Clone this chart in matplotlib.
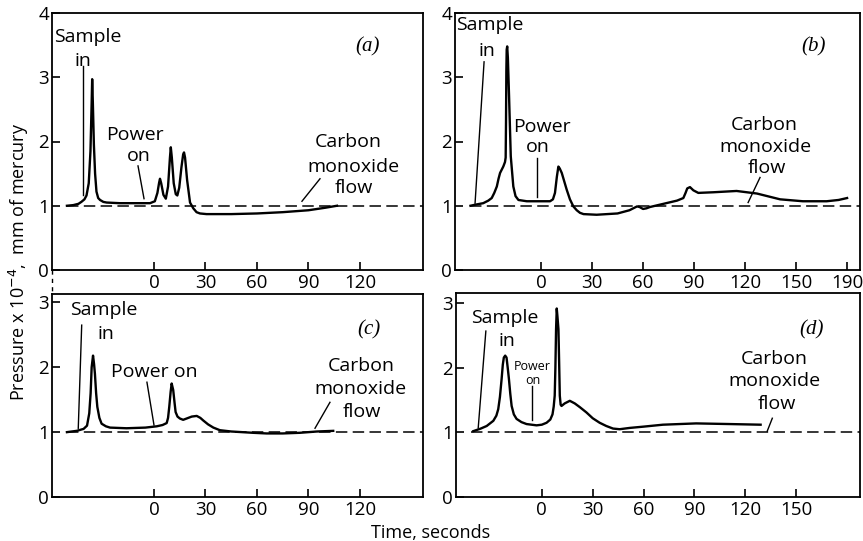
import matplotlib
matplotlib.use("Agg")
import matplotlib.pyplot as plt
from matplotlib.lines import Line2D

plt.rcParams['font.family'] = ['Open Sans', 'DejaVu Sans']

# panel (a)
a_time = [-50.7, -47, -44, -42.3, -40.5, -39.3, -38, -37, -36.3, -36, -35.6, -35, -34.3,
          -33.5, -32.5, -31.4, -29.5, -27.6, -20, -10, -2.3, 0.5, 2, 3, 3.5, 4.2, 5.5,
          6.9, 8.2, 9.3, 9.8, 10.4, 11.5, 12.7, 13.6, 14.7, 16, 17, 17.5, 18.1, 19.3,
          21, 22.9, 24.8, 26.8, 30.6, 45, 60, 75, 90, 100, 106.6]
a_pres = [1.00, 1.01, 1.03, 1.06, 1.10, 1.16, 1.35, 1.85, 2.6, 2.97, 2.6, 1.95, 1.5,
          1.22, 1.12, 1.09, 1.06, 1.05, 1.04, 1.04, 1.04, 1.07, 1.2, 1.36, 1.42, 1.35, 1.17,
          1.11, 1.3, 1.75, 1.91, 1.75, 1.35, 1.18, 1.16, 1.28, 1.6, 1.8, 1.83, 1.75, 1.4,
          1.05, 0.96, 0.9, 0.88, 0.87, 0.87, 0.88, 0.9, 0.93, 0.97, 1.0]

# panel (b)
b_time = [-41.5, -38, -34, -31, -29, -27.5, -26, -25, -24.1, -22.2, -21.2, -20.8, -20.6,
          -20.4, -20.2, -19.9, -19.5, -18.8, -17.8, -16.3, -15, -13.3, -8.4, 5.3, 7, 8.2,
          9.3, 10.2, 11, 12.2, 15.1, 17, 19, 21, 22.9, 25, 32.7, 45, 52, 55, 56.5, 58, 60,
          62, 64, 72, 80, 83.7, 85, 86, 87.6, 89.6, 92.5, 101.4, 115, 127, 140.6, 154,
          168, 175, 180]
b_pres = [1.00, 1.02, 1.04, 1.08, 1.12, 1.2, 1.30, 1.42, 1.51, 1.61, 1.68, 1.75, 2.3,
          3.1, 3.43, 3.48, 3.3, 2.70, 1.77, 1.30, 1.15, 1.09, 1.07, 1.07, 1.1, 1.20,
          1.45, 1.61, 1.58, 1.51, 1.25, 1.10, 0.99, 0.93, 0.89, 0.87, 0.86, 0.88, 0.93, 0.97,
          0.99, 0.98, 0.95, 0.96, 0.98, 1.03, 1.08, 1.12, 1.2, 1.27, 1.29, 1.24, 1.20, 1.21,
          1.23, 1.19, 1.10, 1.07, 1.07, 1.09, 1.12]

# panel (c)
c_time = [-50.7, -45, -41, -39, -37.7, -36.9, -36.3, -35.5, -34.9, -34.4, -33.7, -33,
          -31.8, -30.5, -28, -25.6, -16, -5, 1.6, 5, 7.4, 8.2, 8.9, 9.7, 10.3, 11.2, 12,
          12.6, 13.7, 15.1, 17, 19, 22, 24.9, 27, 28.7, 31.5, 34.6, 38.4, 45, 57.6, 65.6,
          75, 85, 95, 104.4]
c_pres = [1.00, 1.02, 1.05, 1.1, 1.29, 1.6, 2.0, 2.18, 2.05, 1.90, 1.6, 1.39,
          1.22, 1.13, 1.09, 1.07, 1.06, 1.07, 1.09, 1.11, 1.14, 1.22, 1.39, 1.62, 1.75, 1.65,
          1.45, 1.31, 1.24, 1.21, 1.19, 1.21, 1.24, 1.25, 1.22, 1.18, 1.12, 1.07, 1.03, 1.01,
          0.99, 0.98, 0.98, 0.99, 1.01, 1.02]

# panel (d)
d_time = [-40.4, -36, -32.5, -28.6, -26.8, -25.7, -24.7, -23.7, -23, -22.4, -21.6, -20.8,
          -20.1, -19.4, -18.6, -17.8, -16.5, -14.9, -12, -9, -3.1, 0, 2.8, 5, 6.3, 7, 7.6,
          8, 8.4, 8.8, 9.2, 9.8, 10.2, 10.6, 11.1, 11.6, 13.5, 16.5, 19.4, 22.5, 26.3, 30,
          34.1, 38, 42, 45.9, 51.8, 60, 71.4, 91, 110.6, 129]
d_pres = [1.02, 1.06, 1.10, 1.18, 1.26, 1.36, 1.55, 1.83, 2.05, 2.16, 2.19, 2.16,
          2.0, 1.83, 1.6, 1.41, 1.28, 1.21, 1.16, 1.13, 1.11, 1.12, 1.15, 1.2, 1.28, 1.4, 1.57,
          2.0, 2.60, 2.92, 2.8, 2.60, 2.1, 1.57, 1.43, 1.41, 1.45, 1.49, 1.45, 1.39, 1.31, 1.22,
          1.15, 1.1, 1.06, 1.05, 1.07, 1.09, 1.12, 1.14, 1.13, 1.12]

ticks_ac = [0, 30, 60, 90, 120]
labels_ac = ['0', '30', '60', '90', '120']
ticks_b = [0, 30, 60, 90, 120, 150, 180]
labels_b = ['0', '30', '60', '90', '120', '150', '190']
ticks_d = [0, 30, 60, 90, 120, 150]
labels_d = ['0', '30', '60', '90', '120', '150']

fig = plt.figure(figsize=(8.63, 5.41), dpi=100)
W, H = 863, 541


def make_ax(l, t, r, b):
    return fig.add_axes([l / W, 1 - b / H, (r - l) / W, (b - t) / H])


def style(ax, xlim, ylim, yticks, xt, xl):
    ax.set_xlim(*xlim)
    ax.set_ylim(*ylim)
    ax.set_yticks(yticks)
    ax.set_yticklabels([str(v) for v in yticks])
    ax.set_xticks(xt)
    ax.set_xticklabels(xl)
    ax.tick_params(direction='in', length=6, width=1.2, labelsize=13.5, pad=3)
    ax.tick_params(axis='y', pad=2)
    for s in ax.spines.values():
        s.set_linewidth(1.3)


def curve(ax, t, p, base_start):
    ax.plot([base_start, ax.get_xlim()[1]], [1, 1], color='black', lw=1.1,
            dashes=(7.5, 3.5))
    ax.plot(t, p, color='black', lw=1.7, solid_joinstyle='round')


def note(ax, s, t, p, size=14):
    ax.text(t, p, s, ha='center', va='center', fontsize=size)


def leader(ax, t0, p0, t1, p1):
    ax.plot([t0, t1], [p0, p1], color='black', lw=1.0)


def tag(ax, s, t, p):
    ax.text(t, p, s, ha='center', va='center', fontsize=15, style='italic',
            family='Liberation Serif')


# (a)
ax = make_ax(52, 13, 423, 270)
style(ax, (-59.4, 156.7), (0, 4.0), [0, 1, 2, 3, 4], ticks_ac, labels_ac)
curve(ax, a_time, a_pres, -50.7)
note(ax, 'Sample', -38.7, 3.62)
note(ax, 'in', -41.3, 3.25)
leader(ax, -41.4, 3.17, -41.4, 1.16)
note(ax, 'Power', -11, 2.10)
note(ax, 'on', -8.7, 1.78)
leader(ax, -9.3, 1.62, -5.8, 1.11)
note(ax, 'Carbon', 113, 1.99)
note(ax, 'monoxide', 116, 1.61)
note(ax, 'flow', 116.5, 1.27)
leader(ax, 96.7, 1.42, 86.2, 1.07)
tag(ax, '(a)', 124.6, 3.48)

# (b)
ax = make_ax(455, 13, 860, 270)
style(ax, (-50.6, 187.6), (0, 4.0), [0, 1, 2, 3, 4], ticks_b, labels_b)
curve(ax, b_time, b_pres, -41.8)
note(ax, 'Sample', -30, 3.81)
note(ax, 'in', -31.8, 3.41)
leader(ax, -33.5, 3.24, -38.8, 1.04)
note(ax, 'Power', 0.3, 2.23)
note(ax, 'on', -2, 1.92)
leader(ax, -2.2, 1.74, -2.2, 1.14)
note(ax, 'Carbon', 131, 2.26)
note(ax, 'monoxide', 132, 1.92)
note(ax, 'flow', 133, 1.59)
leader(ax, 128.8, 1.44, 121.8, 1.05)
tag(ax, '(b)', 160, 3.47)

# (c)
ax = make_ax(52, 294, 423, 497)
style(ax, (-59.4, 156.7), (0, 3.13), [0, 1, 2, 3], ticks_ac, labels_ac)
curve(ax, c_time, c_pres, -50.7)
note(ax, 'Sample', -29, 2.88)
note(ax, 'in', -28, 2.51)
leader(ax, -42.1, 2.65, -44.1, 1.06)
note(ax, 'Power on', 0, 1.92)
leader(ax, -4.1, 1.77, 0, 1.11)
note(ax, 'Carbon', 121, 2.02)
note(ax, 'monoxide', 120.5, 1.66)
note(ax, 'flow', 121, 1.31)
leader(ax, 102.5, 1.46, 93.8, 1.06)
tag(ax, '(c)', 125, 2.57)

# (d)
ax = make_ax(456, 293, 860, 497)
style(ax, (-50.6, 187.6), (0, 3.16), [0, 1, 2, 3], ticks_d, labels_d)
curve(ax, d_time, d_pres, -42)
note(ax, 'Sample', -21.8, 2.77)
note(ax, 'in', -20.6, 2.41)
leader(ax, -33, 2.57, -37.5, 1.07)
note(ax, 'Power', -5.9, 2.02, size=9)
note(ax, 'on', -5, 1.80, size=9)
leader(ax, -5.5, 1.72, -5.5, 1.20)
note(ax, 'Carbon', 137, 2.14)
note(ax, 'monoxide', 137, 1.79)
note(ax, 'flow', 138.5, 1.44)
leader(ax, 135.9, 1.22, 132.9, 1.02)
tag(ax, '(d)', 159, 2.59)

# dashed join between the left panels
fig.add_artist(Line2D([52 / W, 52 / W], [1 - 270 / H, 1 - 294 / H], color='black',
                      lw=1.0, dashes=(3, 3)))

fig.text(19 / W, 1 - 262 / H, 'Pressure x 10$^{-4}$,  mm of mercury', rotation=90,
         ha='center', va='center', fontsize=13)
fig.text(431 / W, 1 - 533 / H, 'Time, seconds', ha='center', va='center', fontsize=13)

fig.savefig('out.png', dpi=100)
